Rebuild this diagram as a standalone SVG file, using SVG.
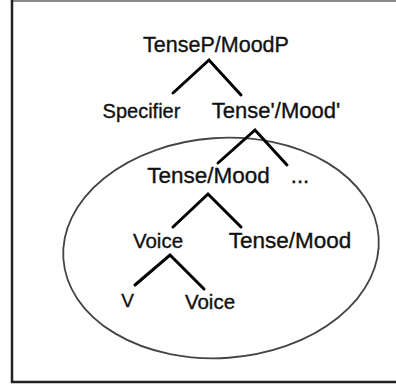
<svg xmlns="http://www.w3.org/2000/svg" width="396" height="385" viewBox="0 0 396 385">
<style>
.t{font-family:"Liberation Sans",Arial,sans-serif;fill:#111;stroke:#111;stroke-width:0.35;text-anchor:middle}
.b{stroke:#000;stroke-width:3;fill:none;stroke-linecap:round;stroke-linejoin:miter}
</style>
<rect width="396" height="385" fill="#fff"/>
<g id="frame" fill="none" stroke="#222">
<line x1="12" y1="1" x2="396" y2="1" stroke-width="1.5" stroke="#666"/>
<line x1="12" y1="0" x2="12" y2="383" stroke-width="2.5"/>
<line x1="11" y1="382" x2="396" y2="382" stroke-width="2.5"/>
</g>
<ellipse id="domain" cx="221" cy="248" rx="158" ry="110" transform="rotate(-4 221 248)" fill="none" stroke="#444" stroke-width="1.8"/>
<g id="connectors">
<polyline class="b" points="173,93 209,60 241,95"/>
<polyline class="b" points="218,163 255,130 287,165"/>
<polyline class="b" points="173,227 208,194 241,227"/>
<polyline class="b" points="135,285 170,255 204,289"/>
</g>
<g id="n-tensep"><text class="t" x="216" y="52" font-size="21.5">TenseP/MoodP</text></g>
<g id="n-spec"><text class="t" x="141.5" y="118" font-size="20">Specifier</text></g>
<g id="n-tensebar"><text class="t" x="276" y="118" font-size="22">Tense'/Mood'</text></g>
<g id="n-tense"><text class="t" x="208.5" y="183" font-size="22.5">Tense/Mood</text></g>
<g id="n-dots"><text class="t" x="300" y="183" font-size="22">...</text></g>
<g id="n-voice1"><text class="t" x="158" y="248" font-size="20.5">Voice</text></g>
<g id="n-tense2"><text class="t" x="290" y="248" font-size="22.5">Tense/Mood</text></g>
<g id="n-v"><text class="t" x="127.5" y="307" font-size="19">V</text></g>
<g id="n-voice2"><text class="t" x="210" y="309" font-size="20.5">Voice</text></g>
</svg>
